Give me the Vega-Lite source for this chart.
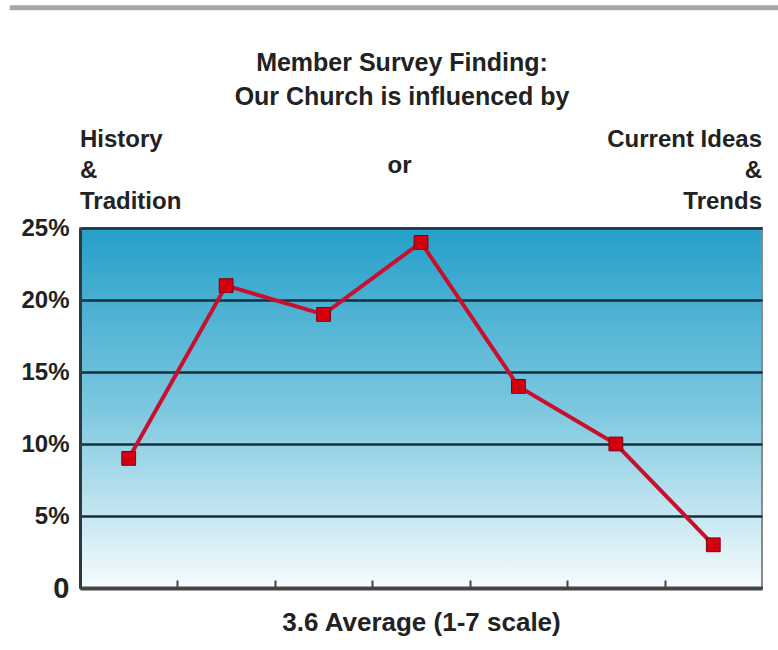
{
  "$schema": "https://vega.github.io/schema/vega-lite/v6.json",
  "width": 682,
  "height": 360,
  "autosize": "none",
  "padding": {"left": 80, "top": 228, "right": 16, "bottom": 62},
  "background": "white",
  "config": {"font": "Liberation Sans"},
  "view": {
    "fill": {
      "gradient": "linear", "x1": 0, "y1": 0, "x2": 0, "y2": 1,
      "stops": [
        {"offset": 0, "color": "#259fc9"},
        {"offset": 0.5, "color": "#7cc7df"},
        {"offset": 1, "color": "#f6fcfd"}
      ]
    },
    "stroke": "#8a8a8a",
    "strokeWidth": 2
  },
  "datasets": {
    "responses": [
      {"rating": 1, "pct": 9},
      {"rating": 2, "pct": 21},
      {"rating": 3, "pct": 19},
      {"rating": 4, "pct": 24},
      {"rating": 5, "pct": 14},
      {"rating": 6, "pct": 10},
      {"rating": 7, "pct": 3}
    ]
  },
  "data": {"name": "responses"},
  "layer": [
    {
      "mark": {"type": "line", "color": "#c8102e", "strokeWidth": 4},
      "encoding": {
        "x": {
          "field": "rating", "type": "quantitative",
          "scale": {"domain": [0.5, 7.5], "nice": false, "zero": false},
          "axis": {
            "values": [1.5, 2.5, 3.5, 4.5, 5.5, 6.5],
            "labels": false,
            "grid": false,
            "tickSize": -8,
            "tickWidth": 2,
            "tickColor": "#444444",
            "domainColor": "#444444",
            "domainWidth": 4,
            "title": "3.6 Average (1-7 scale)",
            "titleFontSize": 26,
            "titleFontWeight": "bold",
            "titleColor": "#222222",
            "titlePadding": 20
          }
        },
        "y": {
          "field": "pct", "type": "quantitative",
          "scale": {"domain": [0, 25], "nice": false},
          "axis": {
            "values": [0, 5, 10, 15, 20, 25],
            "labelExpr": "datum.value == 0 ? '0' : datum.value + '%'",
            "labelFontSize": {"condition": {"test": "datum.value == 0", "value": 29}, "value": 24},
            "labelFontWeight": "bold",
            "labelColor": "#222222",
            "labelPadding": 11,
            "ticks": false,
            "grid": true,
            "gridColor": "#14303c",
            "gridWidth": 2.5,
            "gridOpacity": 1,
            "domainColor": "#2a3a40",
            "domainWidth": 3,
            "title": null
          }
        }
      }
    },
    {
      "mark": {"type": "square", "size": 190, "filled": true, "color": "#d4000f", "stroke": "#7a0010", "strokeWidth": 1, "opacity": 1},
      "encoding": {
        "x": {"field": "rating", "type": "quantitative"},
        "y": {"field": "pct", "type": "quantitative"}
      }
    },
    {
      "data": {"values": [{"label": ["Member Survey Finding:", "Our Church is influenced by"]}]},
      "mark": {"type": "text", "align": "center", "baseline": "alphabetic", "fontSize": 25, "fontWeight": "bold", "color": "#222222", "lineHeight": 34, "dy": -157},
      "encoding": {"x": {"datum": 3.805}, "y": {"datum": 25}, "text": {"field": "label", "type": "nominal"}}
    },
    {
      "data": {"values": [{"label": ["History", "&", "Tradition"]}]},
      "mark": {"type": "text", "align": "left", "baseline": "alphabetic", "fontSize": 24, "fontWeight": "bold", "color": "#222222", "lineHeight": 31, "dy": -81},
      "encoding": {"x": {"datum": 0.5}, "y": {"datum": 25}, "text": {"field": "label", "type": "nominal"}}
    },
    {
      "data": {"values": [{"label": ["Current Ideas", "&", "Trends"]}]},
      "mark": {"type": "text", "align": "right", "baseline": "alphabetic", "fontSize": 24, "fontWeight": "bold", "color": "#222222", "lineHeight": 31, "dy": -81},
      "encoding": {"x": {"datum": 7.5}, "y": {"datum": 25}, "text": {"field": "label", "type": "nominal"}}
    },
    {
      "data": {"values": [{"label": "or"}]},
      "mark": {"type": "text", "align": "center", "baseline": "alphabetic", "fontSize": 24, "fontWeight": "bold", "color": "#222222", "dy": -55},
      "encoding": {"x": {"datum": 3.78}, "y": {"datum": 25}, "text": {"field": "label", "type": "nominal"}}
    },
    {
      "data": {"values": [{"start": -0.22, "end": 7.7, "level": 40.3}]},
      "mark": {"type": "rule", "color": "#a6a6a6", "strokeWidth": 5},
      "encoding": {"x": {"field": "start", "type": "quantitative"}, "x2": {"field": "end"}, "y": {"field": "level", "type": "quantitative"}}
    }
  ]
}
